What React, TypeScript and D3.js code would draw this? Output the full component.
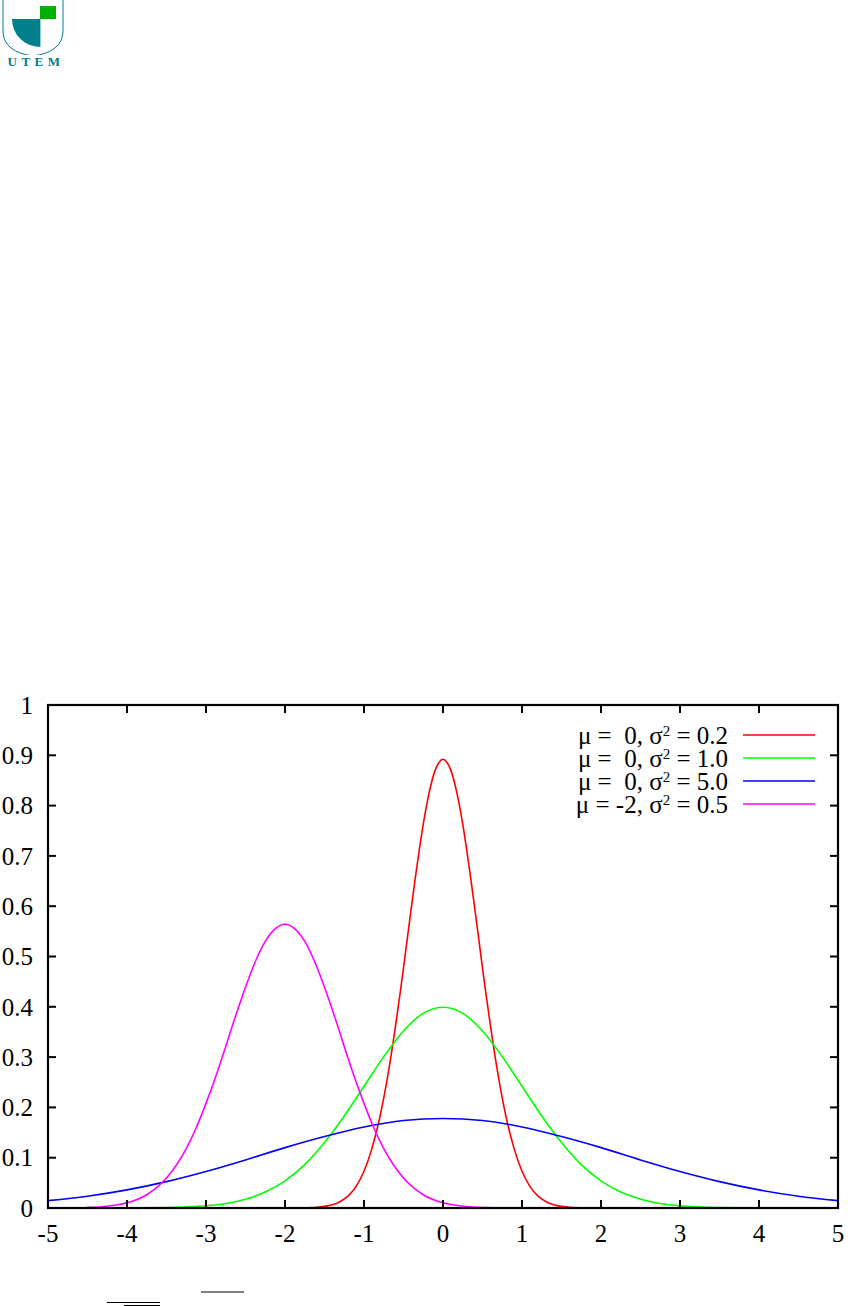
import React from "react";
import * as d3 from "d3";

// ---- data ----
const X_TICKS = [-5, -4, -3, -2, -1, 0, 1, 2, 3, 4, 5];
const Y_TICKS = [0, 0.1, 0.2, 0.3, 0.4, 0.5, 0.6, 0.7, 0.8, 0.9, 1];

const LEGEND_MU = [" 0", " 0", " 0", "-2"];
const LEGEND_S2 = ["0.2", "1.0", "5.0", "0.5"];
const COLORS = ["#ff0000", "#00ff00", "#0000ff", "#ff00ff"];

const RED_X = [-5, -2, -1.8, -1.6, -1.5, -1.4, -1.3, -1.2, -1.1, -1.0, -0.9, -0.8, -0.7, -0.6, -0.55, -0.5, -0.45, -0.4, -0.35, -0.3, -0.25, -0.2, -0.15, -0.1, -0.05, 0,
  0.05, 0.1, 0.15, 0.2, 0.25, 0.3, 0.35, 0.4, 0.45, 0.5, 0.55, 0.6, 0.7, 0.8, 0.9, 1.0, 1.1, 1.2, 1.3, 1.4, 1.5, 1.6, 1.8, 2, 5];
const RED_Y = [0, 0, 0.0003, 0.0015, 0.0032, 0.0066, 0.013, 0.024, 0.043, 0.073, 0.118, 0.180, 0.262, 0.363, 0.419, 0.477, 0.538, 0.598, 0.657, 0.712, 0.763, 0.807, 0.843, 0.870, 0.886, 0.892,
  0.886, 0.870, 0.843, 0.807, 0.763, 0.712, 0.657, 0.598, 0.538, 0.477, 0.419, 0.363, 0.262, 0.180, 0.118, 0.073, 0.043, 0.024, 0.013, 0.0066, 0.0032, 0.0015, 0.0003, 0, 0];

const GREEN_X = [-5, -4, -3.5, -3, -2.75, -2.5, -2.25, -2, -1.75, -1.5, -1.25, -1, -0.75, -0.5, -0.25, 0,
  0.25, 0.5, 0.75, 1, 1.25, 1.5, 1.75, 2, 2.25, 2.5, 2.75, 3, 3.5, 4, 5];
const GREEN_Y = [0, 0.0001, 0.0009, 0.0044, 0.0091, 0.0175, 0.0317, 0.054, 0.0863, 0.130, 0.183, 0.242, 0.301, 0.352, 0.387, 0.399,
  0.387, 0.352, 0.301, 0.242, 0.183, 0.130, 0.0863, 0.054, 0.0317, 0.0175, 0.0091, 0.0044, 0.0009, 0.0001, 0];

const BLUE_X = [-5, -4.5, -4, -3.5, -3, -2.5, -2, -1.5, -1, -0.5, 0, 0.5, 1, 1.5, 2, 2.5, 3, 3.5, 4, 4.5, 5];
const BLUE_Y = [0.0146, 0.0235, 0.036, 0.0524, 0.0725, 0.0955, 0.120, 0.142, 0.161, 0.174, 0.178,
  0.174, 0.161, 0.142, 0.120, 0.0955, 0.0725, 0.0524, 0.036, 0.0235, 0.0146];

const MAG_X = [-5, -4.75, -4.5, -4.25, -4, -3.75, -3.5, -3.25, -3.125, -3, -2.875, -2.75, -2.625, -2.5, -2.375, -2.25, -2.125, -2,
  -1.875, -1.75, -1.625, -1.5, -1.375, -1.25, -1.125, -1, -0.875, -0.75, -0.5, -0.25, 0, 0.25, 0.5, 1, 5];
const MAG_Y = [0.0001, 0.0003, 0.0011, 0.0036, 0.0103, 0.0264, 0.0595, 0.118, 0.159, 0.208, 0.262, 0.321, 0.382, 0.439, 0.490, 0.530, 0.555, 0.564,
  0.555, 0.530, 0.490, 0.439, 0.382, 0.321, 0.262, 0.208, 0.159, 0.118, 0.0595, 0.0264, 0.0103, 0.0036, 0.0011, 0.0001, 0];

const SERIES = [
  { xs: RED_X, ys: RED_Y },
  { xs: GREEN_X, ys: GREEN_Y },
  { xs: BLUE_X, ys: BLUE_Y },
  { xs: MAG_X, ys: MAG_Y },
];

const W = 848;
const H = 1306;
const L = 48, R = 838, T = 705, B = 1208;
const FONT = "Times New Roman, Tinos, Liberation Serif, DejaVu Serif, serif";

export default function App() {
  const x = d3.scaleLinear().domain([-5, 5]).range([L, R]);
  const y = d3.scaleLinear().domain([0, 1]).range([B, T]);
  const line = d3
    .line<[number, number]>()
    .x((d) => x(d[0]))
    .y((d) => y(d[1]))
    .curve(d3.curveMonotoneX);
  const fmt = d3.format("~g");
  const tick = 8;
  const teal = "#00808c";

  return (
    <div style={{ position: "absolute", left: 0, top: 0 }}>
      <svg width={W} height={H} style={{ display: "block", background: "#fff" }}>
        {/* logo */}
        <g>
          <path d="M3,0 L3,32 Q4,52 33,56 Q62,52 63,32 L63,0" fill="none" stroke={teal} strokeWidth={1} />
          <path d="M40,19 L12,19 A28,28 0 0 0 40,47 Z" fill={teal} />
          <line x1={40} y1={19} x2={40} y2={47} stroke={teal} strokeWidth={0.8} />
          <rect x={40} y={6} width={16} height={13} fill="#00b000" />
          <rect x={0} y={55} width={68} height={12} fill="#fff" />
          <text x={36} y={65.5} textAnchor="middle" fontFamily={FONT} fontSize={13} fontWeight="bold" fill={teal} letterSpacing={4.5}>
            UTEM
          </text>
        </g>

        {/* curves */}
        {SERIES.map((s, i) => (
          <path
            key={i}
            d={line(s.xs.map((v, j) => [v, s.ys[j]] as [number, number])) || ""}
            fill="none"
            stroke={COLORS[i]}
            strokeWidth={1.6}
          />
        ))}

        {/* ticks */}
        {Y_TICKS.map((v) => (
          <g key={"y" + v}>
            <line x1={L} x2={L + tick} y1={y(v)} y2={y(v)} stroke="#000" strokeWidth={2} />
            <line x1={R} x2={R - tick} y1={y(v)} y2={y(v)} stroke="#000" strokeWidth={2} />
            <text x={33} y={y(v)} dy="0.35em" textAnchor="end" fontFamily={FONT} fontSize={25} fill="#000">
              {fmt(v)}
            </text>
          </g>
        ))}
        {X_TICKS.map((v) => (
          <g key={"x" + v}>
            <line x1={x(v)} x2={x(v)} y1={B} y2={B - tick} stroke="#000" strokeWidth={2} />
            <line x1={x(v)} x2={x(v)} y1={T} y2={T + tick} stroke="#000" strokeWidth={2} />
            <text x={x(v)} y={1242} textAnchor="middle" fontFamily={FONT} fontSize={25} fill="#000">
              {String(v)}
            </text>
          </g>
        ))}

        {/* border */}
        <rect x={L} y={T} width={R - L} height={B - T} fill="none" stroke="#000" strokeWidth={2.2} />

        {/* legend */}
        {LEGEND_MU.map((mu, i) => {
          const yy = 735 + i * 23;
          return (
            <g key={"lg" + i}>
              <text x={728} y={yy} dy="0.35em" textAnchor="end" fontFamily={FONT} fontSize={25} fill="#000" style={{ whiteSpace: "pre" }}>
                <tspan>{"\u03bc = " + mu + ", \u03c3"}</tspan>
                <tspan dy={-8} fontSize={15}>2</tspan>
                <tspan dy={8}>{" = " + LEGEND_S2[i]}</tspan>
              </text>
              <line x1={743} x2={815} y1={yy} y2={yy} stroke={COLORS[i]} strokeWidth={1.6} />
            </g>
          );
        })}

        {/* formula fragments at page bottom */}
        <line x1={107} x2={160} y1={1302.5} y2={1302.5} stroke="#000" strokeWidth={1} />
        <line x1={124} x2={160} y1={1305.5} y2={1305.5} stroke="#000" strokeWidth={1} />
        <line x1={201} x2={244} y1={1292} y2={1292} stroke="#000" strokeWidth={1.2} />
      </svg>
    </div>
  );
}
